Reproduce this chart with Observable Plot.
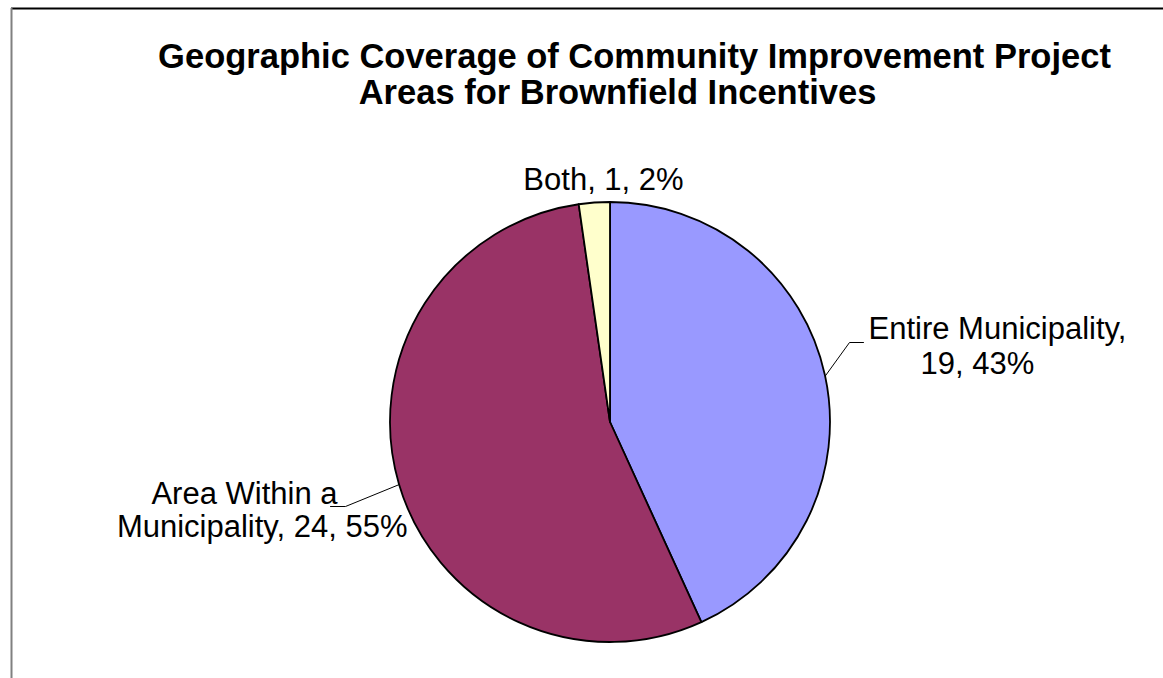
<!DOCTYPE html>
<html>
<head>
<meta charset="utf-8">
<script src="https://cdn.jsdelivr.net/npm/d3@7"></script>
<script src="https://cdn.jsdelivr.net/npm/@observablehq/plot@0.6"></script>
<style>
  html, body { margin: 0; padding: 0; background: #ffffff; }
</style>
</head>
<body>
<div id="chart"></div>
<script>
// ---- data ----
const categories = ["Entire Municipality", "Area Within a Municipality", "Both"];
const counts = [19, 24, 1];
const percents = [43, 55, 2];
const titleLines = ["Geographic Coverage of Community Improvement Project", "Areas for Brownfield Incentives"];

// ---- styles / layout ----
const colors = ["#9999FF", "#993366", "#FFFFCC"];
const W = 1163, H = 678;
const FONT = "'Liberation Sans', Arial, Helvetica, sans-serif";
const pie = {cx: 610, cy: 422, r: 220};
// label layout: words on first line, line anchors, leader elbow/end
const labelLayout = [
  {firstWords: 2, anchor: "start", lines: [{x: 868, y: 338}, {x: 920, y: 373}], leader: [[849, 342], [863, 342]]},
  {firstWords: 3, anchor: "end",   lines: [{x: 337, y: 503}, {x: 407, y: 536}], leader: [[345, 506], [330, 506]]},
  {firstWords: 99, anchor: "middle", lines: [{x: 603, y: 189}], leader: null}
];
const titleLayout = [{x: 634, y: 67}, {x: 617, y: 103}];

// ---- derived ----
const arcs = d3.pie().sort(null)(counts);
const labelRows = [];
const leaderRows = [];
categories.forEach((cat, i) => {
  const full = `${cat}, ${counts[i]}, ${percents[i]}%`;
  const words = full.split(" ");
  const L = labelLayout[i];
  const parts = L.lines.length > 1
    ? [words.slice(0, L.firstWords).join(" "), words.slice(L.firstWords).join(" ")]
    : [full];
  parts.forEach((t, j) => labelRows.push({text: t, x: L.lines[j].x, y: L.lines[j].y, anchor: L.anchor}));
  if (L.leader) {
    const a = (arcs[i].startAngle + arcs[i].endAngle) / 2;
    const p0 = [pie.cx + pie.r * Math.sin(a), pie.cy - pie.r * Math.cos(a)];
    [p0, ...L.leader].forEach(p => leaderRows.push({id: i, x: p[0], y: p[1]}));
  }
});
const titleRows = titleLines.map((t, i) => ({text: t, x: titleLayout[i].x, y: titleLayout[i].y}));

function pieMark(index, scales) {
  const g = d3.create("svg:g");
  const cx = scales.x(pie.cx), cy = scales.y(pie.cy);
  const rr = scales.x(pie.cx + pie.r) - cx;
  const arc = d3.arc().innerRadius(0).outerRadius(rr);
  g.attr("transform", `translate(${cx},${cy})`);
  g.selectAll("path").data(arcs).join("path")
    .attr("d", arc)
    .attr("fill", (d, i) => colors[i])
    .attr("stroke", "#000")
    .attr("stroke-width", 1.8)
    .attr("stroke-linejoin", "round");
  return g.node();
}

const chart = Plot.plot({
  width: W, height: H,
  margin: 0,
  x: {domain: [0, W], range: [0, W], axis: null},
  y: {domain: [0, H], range: [0, H], axis: null},
  style: {fontFamily: FONT, background: "#ffffff", color: "#000"},
  marks: [
    Plot.ruleY([8], {x1: 11, x2: W, stroke: "#000", strokeWidth: 2}),
    Plot.ruleX([11], {y1: 8, y2: H, stroke: "#808080", strokeWidth: 2}),
    pieMark,
    Plot.line(leaderRows, {x: "x", y: "y", z: "id", stroke: "#000", strokeWidth: 1}),
    Plot.text(labelRows.filter(d => d.anchor === "start"), {x: "x", y: "y", text: "text", textAnchor: "start", lineAnchor: "bottom", fontSize: 31, fill: "#000"}),
    Plot.text(labelRows.filter(d => d.anchor === "end"), {x: "x", y: "y", text: "text", textAnchor: "end", lineAnchor: "bottom", fontSize: 31, fill: "#000"}),
    Plot.text(labelRows.filter(d => d.anchor === "middle"), {x: "x", y: "y", text: "text", textAnchor: "middle", lineAnchor: "bottom", fontSize: 31, fill: "#000"}),
    Plot.text(titleRows, {x: "x", y: "y", text: "text", textAnchor: "middle", lineAnchor: "bottom", fontSize: 34.5, fontWeight: "bold", fill: "#000"})
  ]
});
document.getElementById("chart").appendChild(chart);
</script>
</body>
</html>
